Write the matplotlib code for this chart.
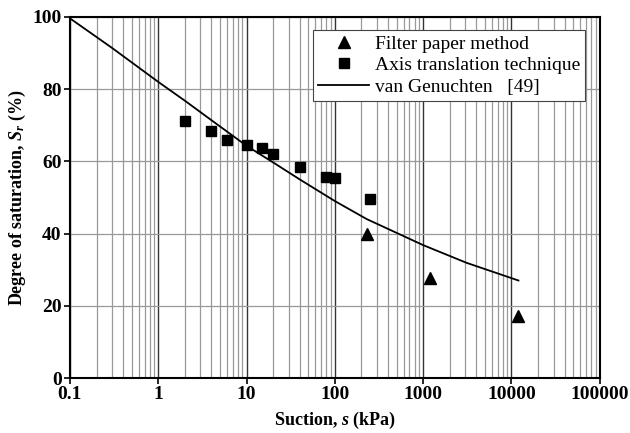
import matplotlib
matplotlib.use('Agg')
import matplotlib.pyplot as plt
from matplotlib.ticker import FixedLocator, FixedFormatter, LogLocator, NullFormatter

plt.rcParams['font.family'] = 'Liberation Serif'
plt.rcParams['mathtext.fontset'] = 'custom'
plt.rcParams['mathtext.rm'] = 'Liberation Serif:bold'
plt.rcParams['mathtext.it'] = 'Liberation Serif:bold:italic'
plt.rcParams['mathtext.bf'] = 'Liberation Serif:bold'

# filter paper method (triangles)
fp_s = [230, 1200, 12000]
fp_sr = [39.9, 27.6, 17.3]

# axis translation technique (squares)
at_s = [2, 4, 6, 10, 15, 20, 40, 80, 100, 250]
at_sr = [71.2, 68.4, 66.0, 64.5, 63.6, 62.0, 58.4, 55.8, 55.5, 49.7]

# van Genuchten curve
vg_s = [0.1, 0.3, 1, 2, 4, 10, 20, 40, 100, 230, 1000, 3100, 12000]
vg_sr = [99.6, 91.4, 82.0, 76.8, 71.4, 64.3, 59.7, 55.0, 49.0, 44.0, 36.8, 31.9, 27.0]

xticks = [0.1, 1, 10, 100, 1000, 10000, 100000]
xticklabels = ['0.1', '1', '10', '100', '1000', '10000', '100000']
yticks = [0, 20, 40, 60, 80, 100]

fig = plt.figure(figsize=(6.3, 4.33), dpi=100)
ax = fig.add_axes([0.111, 0.127, 0.841, 0.834])

ax.set_xscale('log')
ax.set_xlim(0.1, 100000)
ax.set_ylim(0, 100)

ax.plot(fp_s, fp_sr, '^', color='black', markersize=8, label='Filter paper method', zorder=4)
ax.plot(at_s, at_sr, 's', color='black', markersize=7, label='Axis translation technique', zorder=4)
ax.plot(vg_s, vg_sr, '-', color='black', linewidth=1.3, label='van Genuchten   [49]', zorder=3)

ax.xaxis.set_major_locator(FixedLocator(xticks))
ax.xaxis.set_major_formatter(FixedFormatter(xticklabels))
ax.xaxis.set_minor_locator(LogLocator(base=10, subs=range(2, 10), numticks=20))
ax.xaxis.set_minor_formatter(NullFormatter())
ax.set_yticks(yticks)

ax.grid(which='major', axis='x', color='#333333', linewidth=1.0)
ax.grid(which='minor', axis='x', color='#999999', linewidth=0.9)
ax.grid(which='major', axis='y', color='#999999', linewidth=0.9)
ax.set_axisbelow(True)

ax.tick_params(which='major', direction='out', length=4, width=1.2, labelsize=14, pad=2)
ax.tick_params(which='minor', length=0)
for lab in ax.get_xticklabels() + ax.get_yticklabels():
    lab.set_fontweight('bold')
for sp in ax.spines.values():
    sp.set_linewidth(1.5)

ax.set_xlabel('Suction, $s$ (kPa)', fontsize=13, fontweight='bold', labelpad=5)
ax.set_ylabel('Degree of saturation, $S_r$ (%)', fontsize=13, fontweight='bold', labelpad=3)

leg = ax.legend(loc='upper right', fontsize=14, frameon=True, fancybox=False,
                edgecolor='#444444', framealpha=1, handlelength=2.6,
                borderpad=0.25, labelspacing=0.2, handletextpad=0.3,
                bbox_to_anchor=(0.99, 0.99))
leg.get_frame().set_linewidth(0.8)

fig.savefig('out.png', dpi=100)
